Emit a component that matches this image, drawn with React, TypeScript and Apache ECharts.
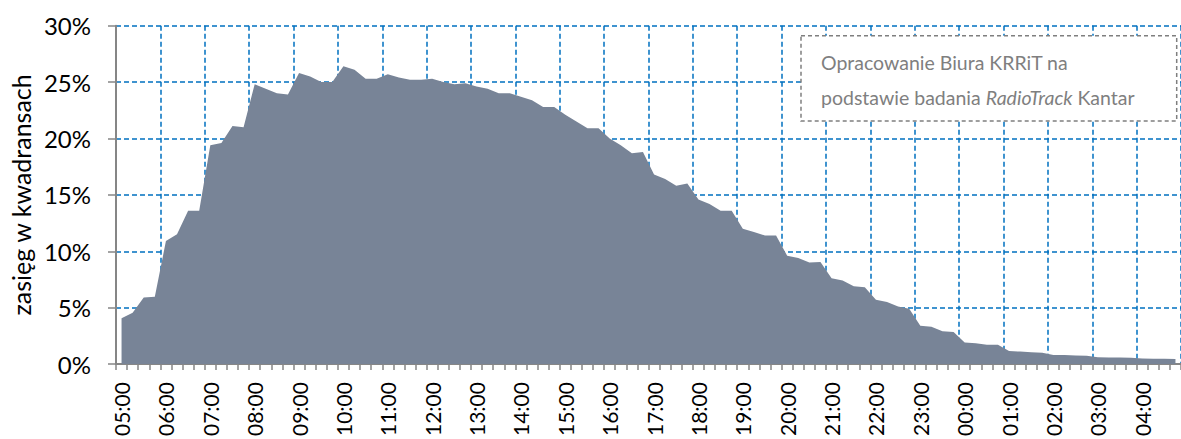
import React, { useEffect, useRef } from "react";
import * as echarts from "echarts";

const hours = ["05", "06", "07", "08", "09", "10", "11", "12", "13", "14", "15", "16", "17", "18", "19", "20", "21", "22", "23", "00", "01", "02", "03", "04"];
const quarters = ["00", "15", "30", "45"];
const categories = hours.flatMap((h) => quarters.map((q) => `${h}:${q}`));

const reach = [
  4.07, 4.54, 5.9, 5.97, 10.9, 11.5, 13.6, 13.6, 19.4, 19.6, 21.1, 21.0,
  24.8, 24.4, 24.0, 23.9, 25.8, 25.5, 25.0, 25.0, 26.4, 26.1, 25.3, 25.3,
  25.7, 25.4, 25.2, 25.2, 25.3, 25.0, 24.8, 24.9, 24.6, 24.4, 24.0, 24.0,
  23.7, 23.4, 22.8, 22.8, 22.1, 21.5, 20.9, 20.9, 20.0, 19.4, 18.7, 18.8,
  16.8, 16.4, 15.8, 16.0, 14.6, 14.2, 13.6, 13.6, 12.0, 11.7, 11.4, 11.4,
  9.6, 9.4, 9.0, 9.05, 7.6, 7.4, 6.9, 6.8, 5.7, 5.5, 5.1, 4.9,
  3.4, 3.3, 2.9, 2.85, 1.9, 1.85, 1.7, 1.7, 1.15, 1.1, 1.05, 1.0,
  0.8, 0.8, 0.76, 0.73, 0.6, 0.58, 0.58, 0.55, 0.5, 0.47, 0.46, 0.44,
];

const yAxisTitle = "zasięg w kwadransach";
const noteLine1 = "Opracowanie Biura KRRiT na";
const noteLine2a = "podstawie badania ";
const noteLine2b = "RadioTrack";
const noteLine2c = " Kantar";

const FONT = "Lato, 'Open Sans', sans-serif";

export default function App() {
  const ref = useRef<HTMLDivElement>(null);
  useEffect(() => {
    if (!ref.current) return;
    const chart = echarts.init(ref.current, undefined, { renderer: "svg" });
    const gridDash = { color: "#0070C0", width: 1.5, type: [5, 3] as any };
    chart.setOption({
      animation: false,
      textStyle: { fontFamily: FONT },
      grid: { left: 116, top: 25.7, width: 1073.2, height: 343.6 },
      xAxis: {
        type: "category",
        data: categories,
        boundaryGap: true,
        axisLine: { lineStyle: { color: "#868686", width: 2 } },
        axisTick: { show: true, interval: 0, length: 6, lineStyle: { color: "#868686", width: 1.5 } },
        axisLabel: { interval: 3, rotate: 90, margin: 18, fontSize: 21, color: "#000", fontFamily: FONT },
        splitLine: { show: true, interval: (i: number) => i % 4 === 0, lineStyle: gridDash },
      },
      yAxis: {
        type: "value",
        min: 0,
        max: 30,
        interval: 5,
        name: yAxisTitle,
        nameLocation: "middle",
        nameRotate: 90,
        nameGap: 82,
        nameTextStyle: { fontSize: 25, color: "#000", fontFamily: FONT },
        axisLine: { show: true, lineStyle: { color: "#868686", width: 2 } },
        axisTick: { show: true, length: 8, inside: false, lineStyle: { color: "#868686", width: 1.5 } },
        axisLabel: { formatter: "{value}%", fontSize: 24, color: "#000", margin: 25, fontFamily: FONT },
        splitLine: { show: true, lineStyle: gridDash },
      },
      series: [
        {
          type: "line",
          data: reach,
          showSymbol: false,
          symbol: "none",
          lineStyle: { width: 0 },
          areaStyle: { color: "#788497", opacity: 1 },
          z: 3,
        },
      ],
      graphic: [
        {
          type: "rect",
          z: 100,
          shape: { x: 801, y: 35.7, width: 375.7, height: 85.3 },
          style: { fill: "#fff", stroke: "#7f7f7f", lineWidth: 1.5, lineDash: [4, 3] },
        },
        {
          type: "text",
          z: 101,
          x: 821,
          y: 62,
          style: { text: noteLine1, fill: "#7f7f7f", font: `19.5px ${FONT}`, verticalAlign: "middle" },
        },
        {
          type: "text",
          z: 101,
          x: 821,
          y: 97,
          style: {
            text: `{n|${noteLine2a}}{i|${noteLine2b}}{n|${noteLine2c}}`,
            verticalAlign: "middle",
            rich: {
              n: { fill: "#7f7f7f", fontSize: 19.5, fontFamily: FONT },
              i: { fill: "#7f7f7f", fontSize: 19.5, fontFamily: FONT, fontStyle: "italic" },
            },
          },
        },
      ],
    });
    return () => chart.dispose();
  }, []);
  return <div ref={ref} style={{ position: "absolute", left: 0, top: 0, width: 1181, height: 439 }} />;
}
